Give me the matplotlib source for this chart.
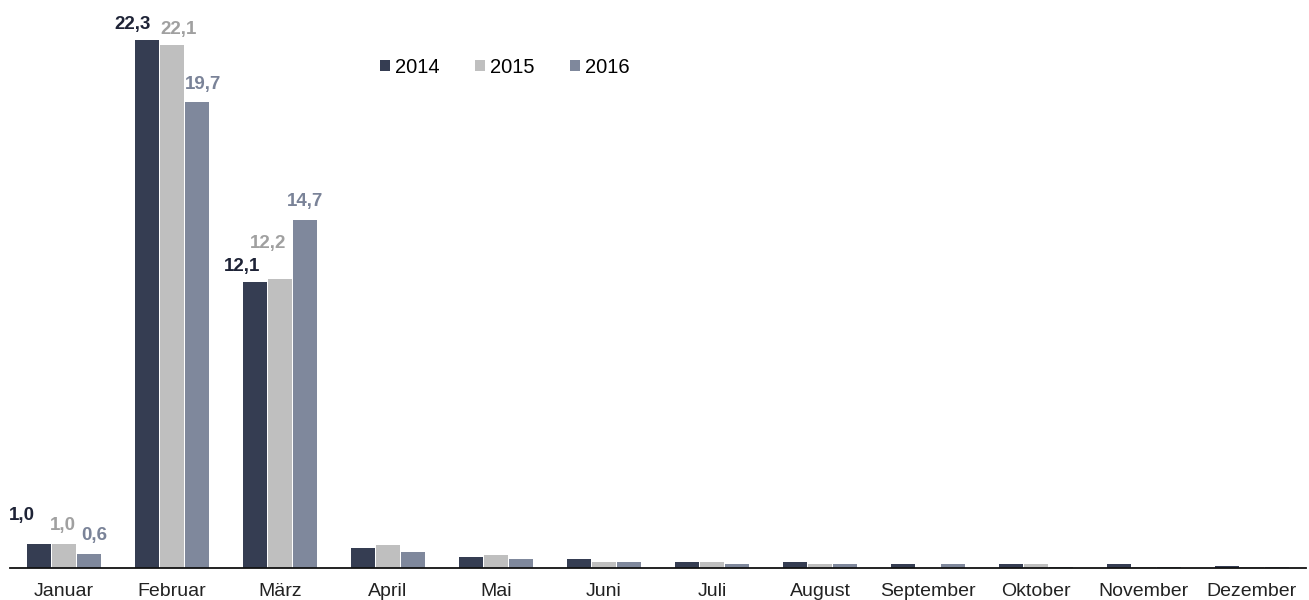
import numpy as np
import matplotlib.pyplot as plt

plt.rcParams['font.family'] = ['Liberation Sans', 'DejaVu Sans']

# data
months = ['Januar', 'Februar', 'März', 'April', 'Mai', 'Juni', 'Juli',
          'August', 'September', 'Oktober', 'November', 'Dezember']
years = ['2014', '2015', '2016']
v2014 = [1.0, 22.3, 12.1, 0.86, 0.46, 0.36, 0.27, 0.27, 0.17, 0.17, 0.17, 0.07]
v2015 = [1.0, 22.1, 12.2, 0.97, 0.57, 0.27, 0.27, 0.15, 0.0, 0.15, 0.05, 0.05]
v2016 = [0.6, 19.7, 14.7, 0.66, 0.36, 0.27, 0.17, 0.17, 0.17, 0.05, 0.06, 0.05]
labelled = 3  # only the first three months carry value labels

bar_colors = ['#353d52', '#bfbfbf', '#7f889c']
text_colors = ['#1e2336', '#a0a0a0', '#7a8398']

fig = plt.figure(figsize=(13.09, 6.0), dpi=100)
ax = fig.add_axes([10 / 1309, 32 / 600, 1296 / 1309, 568 / 600])

x = np.arange(len(months))
w = 0.222
series = [v2014, v2015, v2016]

# label offsets in pixels (dx, gap above bar) per series and month, as in the original
offsets = [
    [(-17, 24), (-15, 11), (-13, 11)],
    [(-1, 14), (7, 11), (-12, 31)],
    [(5, 14), (6, 13), (0, 14)],
]

for i, (vals, yr) in enumerate(zip(series, years)):
    xs = x + (i - 1) * (w + 0.008)
    ax.bar(xs, vals, width=w, color=bar_colors[i], label=yr, zorder=2)
    for j in range(labelled):
        dx, dy = offsets[i][j]
        ax.annotate(f'{vals[j]:.1f}'.replace('.', ','), (xs[j], vals[j]),
                    xytext=(dx * 0.72, dy * 0.72), textcoords='offset points',
                    ha='center', va='baseline', fontsize=13.5, fontweight='bold',
                    color=text_colors[i])

ax.set_xlim(-0.5, len(months) - 0.5)
ax.set_ylim(0, 24)
ax.set_xticks(x)
ax.set_xticklabels(months, fontsize=14, color='#222222')
ax.tick_params(axis='x', length=0, pad=11)
ax.set_yticks([])
for side in ['top', 'right', 'left']:
    ax.spines[side].set_visible(False)
ax.spines['bottom'].set_color('#111111')
ax.spines['bottom'].set_linewidth(1.3)

ax.legend(loc='center', bbox_to_anchor=(0.382, 0.882), ncol=3, frameon=False,
          fontsize=14.5, handlelength=0.5, handleheight=0.5, handletextpad=0.25,
          columnspacing=1.75)

fig.savefig('out.png', dpi=100)
